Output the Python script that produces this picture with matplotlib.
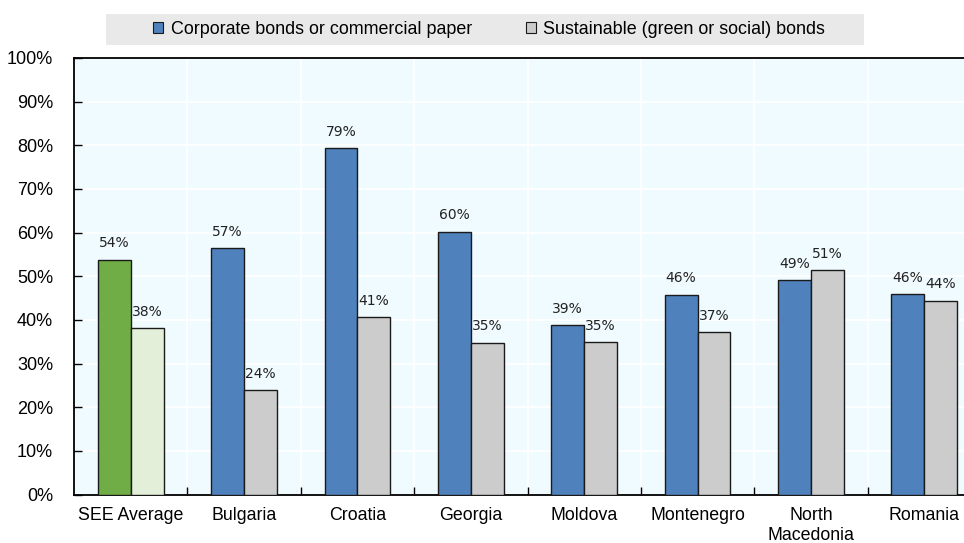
import numpy as np
import matplotlib.pyplot as plt
from matplotlib.patches import Rectangle, Patch

plt.rcParams.update({'font.family': ['Liberation Sans', 'DejaVu Sans'], 'font.size': 12})

countries = ['SEE Average', 'Bulgaria', 'Croatia', 'Georgia', 'Moldova',
             'Montenegro', 'North\nMacedonia', 'Romania']
corporate = [53.7, 56.4, 79.3, 60.2, 38.8, 45.7, 49.1, 45.9]
sustainable = [38.1, 23.9, 40.6, 34.7, 34.9, 37.2, 51.4, 44.4]
corp_labels = ['54%', '57%', '79%', '60%', '39%', '46%', '49%', '46%']
sust_labels = ['38%', '24%', '41%', '35%', '35%', '37%', '51%', '44%']

blue = '#4F81BD'
grey = '#CCCCCC'
green = '#70AD47'
lightgreen = '#E3EFD9'

fig = plt.figure(figsize=(9.64, 5.43), dpi=100)
# axes run past the right edge of the figure on purpose
ax = fig.add_axes([74 / 964, 1 - 494.5 / 543, 907 / 964, 436.5 / 543])
ax.set_facecolor('#F0FBFF')

x = np.arange(len(countries))
w = 0.29
c1 = [green] + [blue] * (len(x) - 1)
c2 = [lightgreen] + [grey] * (len(x) - 1)
b1 = ax.bar(x - w / 2, corporate, w, color=c1, edgecolor='#1a1a1a', linewidth=1.0, zorder=3)
b2 = ax.bar(x + w / 2, sustainable, w, color=c2, edgecolor='#1a1a1a', linewidth=1.0, zorder=3)

for bars, labs in ((b1, corp_labels), (b2, sust_labels)):
    for b, lab in zip(bars, labs):
        ax.text(b.get_x() + b.get_width() / 2, b.get_height() + 2.2, lab,
                ha='center', va='bottom', fontsize=10, family='DejaVu Sans', color='#222222')

ax.set_xlim(-0.5, len(x) - 0.5)
ax.set_ylim(0, 100)
ax.set_yticks(np.arange(0, 101, 10))
ax.set_yticklabels([f'{v}%' for v in range(0, 101, 10)])
ax.tick_params(axis='y', direction='in', length=6, width=1, pad=15, labelsize=13)

# group separators
ax.set_xticks(x[:-1] + 0.5, minor=True)
ax.set_xticks(x)
ax.set_xticklabels(countries, linespacing=1.25)
ax.tick_params(axis='x', which='major', length=0, pad=9, labelsize=12.8)
ax.tick_params(axis='x', which='minor', direction='in', length=6, width=1)

ax.grid(axis='y', color='white', linewidth=1.2, zorder=0)
ax.grid(axis='x', which='minor', color='white', linewidth=1.2, zorder=0)
for s in ['left', 'bottom', 'top']:
    ax.spines[s].set_linewidth(1.3)
ax.spines['right'].set_visible(False)

# legend box above the plot
fig.patches.append(Rectangle((106 / 964, 1 - 45 / 543), 758 / 964, 31 / 543,
                             transform=fig.transFigure, facecolor='#E9E9E9',
                             edgecolor='none', zorder=0))
handles = [Patch(facecolor=blue, edgecolor='#1a1a1a', linewidth=0.8),
           Patch(facecolor=grey, edgecolor='#1a1a1a', linewidth=0.8)]
fig.legend(handles, ['Corporate bonds or commercial paper',
                     'Sustainable (green or social) bonds'],
           loc='center', bbox_to_anchor=(489 / 964, 1 - 29.5 / 543), ncol=2,
           frameon=False, fontsize=12.9, handlelength=0.6, handleheight=0.6,
           handletextpad=0.4, columnspacing=3.0)

fig.savefig('out.png', dpi=100)
